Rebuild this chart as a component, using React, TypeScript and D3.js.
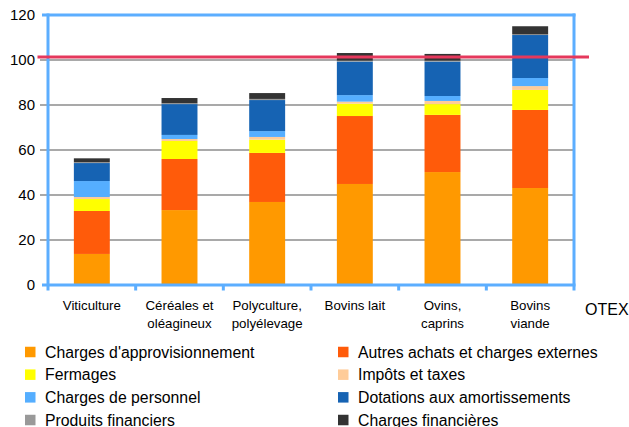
import React from "react";
import * as d3 from "d3";

const categories = ["Viticulture", "Céréales et oléagineux", "Polyculture, polyélevage", "Bovins lait", "Ovins, caprins", "Bovins viande"];
const categoryLines = [["Viticulture"], ["Céréales et", "oléagineux"], ["Polyculture,", "polyélevage"], ["Bovins lait"], ["Ovins,", "caprins"], ["Bovins", "viande"]];

const seriesNames = [
  "Charges d'approvisionnement",
  "Autres achats et charges externes",
  "Fermages",
  "Impôts et taxes",
  "Charges de personnel",
  "Dotations aux amortissements",
  "Produits financiers",
  "Charges financières",
];
const seriesColors = ["#ff9900", "#ff5b0a", "#ffff00", "#ffcc99", "#55aeff", "#1663b3", "#999999", "#333333"];

const approvisionnement = [13.8, 33.3, 36.9, 44.9, 50.2, 43.1];
const autresAchats = [19.1, 22.7, 21.8, 30.2, 25.4, 34.7];
const fermages = [5.3, 8.0, 5.9, 5.5, 4.8, 8.9];
const impots = [0.9, 0.9, 1.2, 0.9, 1.4, 1.7];
const personnel = [7.1, 1.8, 2.6, 2.9, 2.2, 3.6];
const amortissements = [8.0, 13.7, 13.8, 14.9, 15.3, 19.1];
const produitsFinanciers = [0.4, 0.4, 0.5, 0.4, 0.4, 0.3];
const chargesFinancieres = [1.7, 2.3, 2.6, 3.4, 3.0, 3.6];

const yTicks = [0, 20, 40, 60, 80, 100, 120];
const referenceLevel = 101.3;
const xAxisTitle = "OTEX";

const FONT = "'Liberation Sans', Arial, sans-serif";

export default function App() {
  const W = 629, H = 427;
  const left = 48, right = 574, top = 15, bottom = 285;
  const seriesValues = [approvisionnement, autresAchats, fermages, impots, personnel, amortissements, produitsFinanciers, chargesFinancieres];
  const keys = seriesNames;
  const rows = categories.map((c, i) => {
    const r: any = { cat: c };
    keys.forEach((k, j) => (r[k] = seriesValues[j][i]));
    return r;
  });
  const stacked = d3.stack().keys(keys)(rows);
  const x = d3.scaleBand().domain(categories).range([left, right]).paddingInner(0.59).paddingOuter(0.295);
  const y = d3.scaleLinear().domain([0, 120]).range([bottom, top]);
  const step = (right - left) / categories.length;
  const frame = "#5caeff";

  return (
    <svg width={W} height={H} style={{ position: "absolute", left: 0, top: 0, background: "#fff" }} fontFamily={FONT}>
      {/* gridlines */}
      {yTicks.filter((t) => t !== 0 && t !== 120).map((t) => (
        <line key={t} x1={40} x2={right} y1={y(t)} y2={y(t)} stroke="#8c8c8c" strokeWidth={1.4} />
      ))}
      {/* bars */}
      {stacked.map((s, si) => (
        <g key={si} fill={seriesColors[si]}>
          {s.map((d: any, i: number) => (
            <rect key={i} x={x(categories[i])} width={x.bandwidth()} y={y(d[1])} height={Math.max(0, y(d[0]) - y(d[1]))} />
          ))}
        </g>
      ))}
      {/* frame */}
      <line x1={42} x2={right + 1.5} y1={y(120)} y2={y(120)} stroke={frame} strokeWidth={3} />
      <line x1={42} x2={right + 1.5} y1={y(0)} y2={y(0)} stroke={frame} strokeWidth={3} />
      <line x1={right} x2={right} y1={y(120) - 1.5} y2={bottom + 5.5} stroke={frame} strokeWidth={3} />
      <line x1={left} x2={left} y1={y(120) - 1.5} y2={bottom + 5.5} stroke={frame} strokeWidth={3} />
      {d3.range(1, categories.length).map((k) => (
        <line key={k} x1={left + k * step} x2={left + k * step} y1={bottom} y2={bottom + 5.5} stroke={frame} strokeWidth={3} />
      ))}
      {/* y labels */}
      {yTicks.map((t) => (
        <text key={t} x={35} y={y(t) + 5.4} textAnchor="end" fontSize={15} fill="#000">{t}</text>
      ))}
      {/* category labels */}
      {categoryLines.map((lines, i) => (
        <text key={i} textAnchor="middle" fontSize={13.3} fill="#000">
          {lines.map((l, j) => (
            <tspan key={j} x={(x(categories[i]) as number) + x.bandwidth() / 2} y={310 + j * 17.5}>{l}</tspan>
          ))}
        </text>
      ))}
      <text x={585} y={315} fontSize={16} fill="#000">{xAxisTitle}</text>
      {/* reference line */}
      <line x1={37.5} x2={589} y1={y(referenceLevel)} y2={y(referenceLevel)} stroke="#e5385c" strokeWidth={3} />
      {/* legend */}
      {seriesNames.map((n, i) => {
        const col = i % 2, row = Math.floor(i / 2);
        const sx = col === 0 ? 25 : 338;
        const cy = 352 + row * 22.67;
        return (
          <g key={n}>
            <rect x={sx} y={cy - 5.25} width={10.5} height={10.5} fill={seriesColors[i]} />
            <text x={sx + 20} y={cy + 5.6} fontSize={15.8} fill="#000">{n}</text>
          </g>
        );
      })}
    </svg>
  );
}
